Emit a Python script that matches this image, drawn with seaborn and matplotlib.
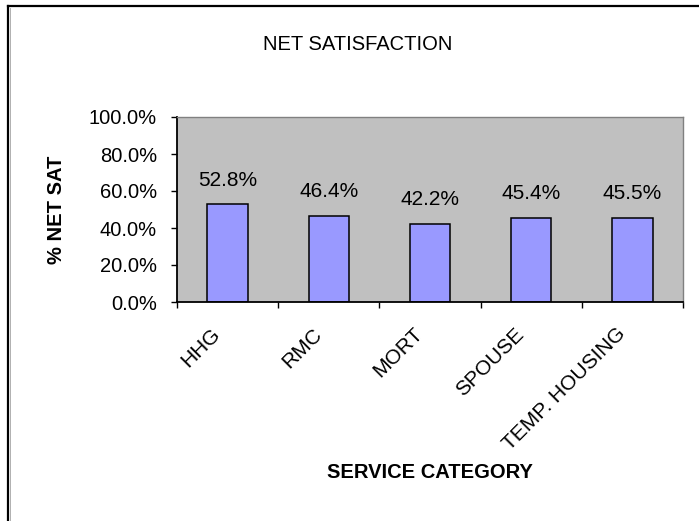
import matplotlib
matplotlib.use("Agg")
import matplotlib.pyplot as plt
from matplotlib.lines import Line2D
from matplotlib.ticker import FuncFormatter, FixedLocator
from matplotlib.transforms import ScaledTranslation
import seaborn as sns
import pandas as pd

# Net satisfaction by service category (percent)
categories = ["HHG", "RMC", "MORT", "SPOUSE", "TEMP. HOUSING"]
net_sat = [52.8, 46.4, 42.2, 45.4, 45.5]
y_ticks = [0, 20, 40, 60, 80, 100]

title_text = "NET SATISFACTION"
x_title = "SERVICE CATEGORY"
y_title = "% NET SAT"

plt.rcParams["font.family"] = ["Liberation Sans", "DejaVu Sans"]

W, H = 699, 521
fig = plt.figure(figsize=(W / 100, H / 100), dpi=100, facecolor="white")

# plot area in pixel coordinates
left, right, top, bottom = 177, 683, 117, 302
ax = fig.add_axes([left / W, 1 - bottom / H, (right - left) / W, (bottom - top) / H])
ax.set_facecolor("#C0C0C0")

df = pd.DataFrame({"category": categories, "value": net_sat})
sns.barplot(data=df, x="category", y="value", color="#9999FF", saturation=1,
            edgecolor="black", linewidth=1.1, width=0.4, ax=ax)

ax.set_xlim(-0.5, len(categories) - 0.5)
ax.set_ylim(0, 100)

# value labels above each bar
for i, v in enumerate(net_sat):
    ax.annotate(f"{v:.1f}%", xy=(i, v), xytext=(0, 17.5), textcoords="offset points",
                ha="center", va="center", fontsize=15, color="black")

# y axis
ax.yaxis.set_major_locator(FixedLocator(y_ticks))
ax.yaxis.set_major_formatter(FuncFormatter(lambda v, p: f"{v:.1f}%"))
ax.tick_params(axis="y", which="major", direction="out", length=4.5, width=1,
               color="black", pad=10, labelsize=14.5)

# x axis: ticks between categories, labels rotated under each bar
ax.set_xticks(range(len(categories)))
ax.set_xticklabels(categories, rotation=45, ha="right", va="center",
                   rotation_mode="anchor", fontsize=15)
ax.tick_params(axis="x", which="major", length=0, pad=21)
shift = ScaledTranslation(-10 / 100, 0, fig.dpi_scale_trans)
for lab in ax.get_xticklabels():
    lab.set_transform(lab.get_transform() + shift)
ax.xaxis.set_minor_locator(FixedLocator([i - 0.5 for i in range(len(categories) + 1)]))
ax.tick_params(axis="x", which="minor", direction="out", length=4.5, width=1, color="black")

ax.grid(False)
for side in ("left", "bottom"):
    ax.spines[side].set_color("black")
    ax.spines[side].set_linewidth(1.3)
for side in ("top", "right"):
    ax.spines[side].set_color("#808080")
    ax.spines[side].set_linewidth(1.0)

ax.set_xlabel(x_title, fontsize=14.5, fontweight="bold", va="center")
ax.xaxis.set_label_coords(0.5, -(472 - bottom) / (bottom - top))
ax.set_ylabel(y_title, fontsize=14.5, fontweight="bold", va="center")
ax.yaxis.set_label_coords((57 - left) / (right - left), 0.5)

fig.text(263 / W, 1 - 45 / H, title_text, ha="left", va="center", fontsize=14.5)

# chart frame (left and top edges fall inside the canvas)
fig.add_artist(Line2D([8 / W, 8 / W], [0, 1 - 6 / H], transform=fig.transFigure,
                      color="black", linewidth=1.6))
fig.add_artist(Line2D([8 / W, 1], [1 - 6 / H, 1 - 6 / H], transform=fig.transFigure,
                      color="black", linewidth=1.6))
fig.add_artist(Line2D([9.5 / W, 9.5 / W], [0, 1 - 7.5 / H], transform=fig.transFigure,
                      color="#B0B0B0", linewidth=0.7))

fig.savefig("out.png", dpi=100, facecolor="white")
